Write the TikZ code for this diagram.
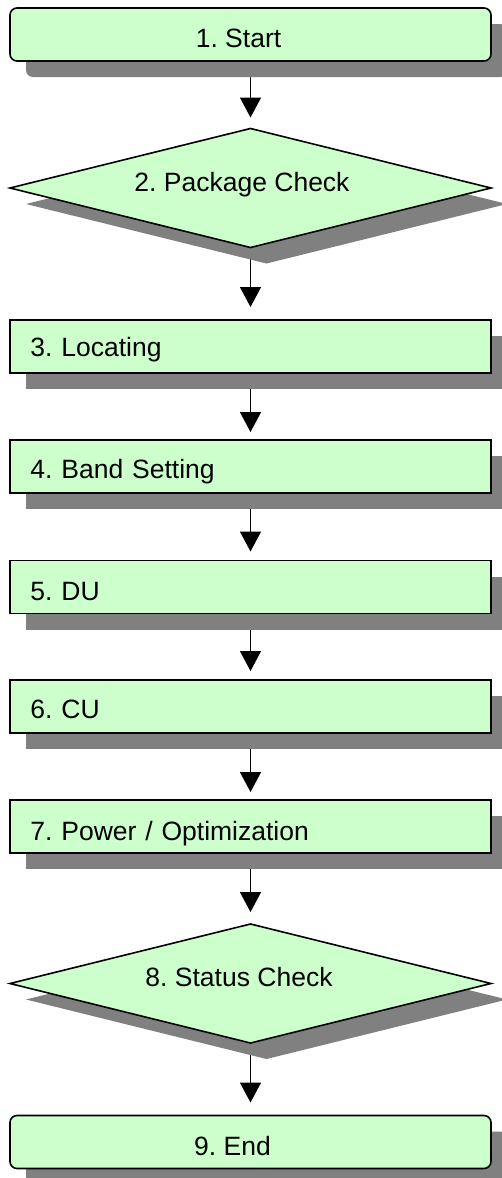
\documentclass[tikz,border=0pt]{standalone}
\usepackage{fontspec}
\setmainfont{Liberation Sans}
\usetikzlibrary{shapes.geometric,shadows,arrows.meta,backgrounds}
\definecolor{boxgreen}{HTML}{CCFFCC}
\definecolor{shadowgray}{HTML}{808080}
\newcommand{\lbl}[3]{\raisebox{#1pt}{#3}\hspace*{#2pt}}
\frenchspacing
\begin{document}
\begin{tikzpicture}[x=1pt,y=-1pt,
  base/.style={draw=black, line width=1.6pt, fill=boxgreen, outer sep=0pt, inner sep=0pt,
    font=\fontsize{26.5}{30}\selectfont\frenchspacing, text height=19pt, text depth=0pt,
    drop shadow={shadow xshift=16pt, shadow yshift=-16pt, fill=shadowgray, opacity=1}},
  termbox/.style={base, rectangle, rounded corners=7pt, minimum width=481pt, minimum height=53pt},
  stepbox/.style={base, rectangle, minimum width=481pt, minimum height=53pt, text width=440pt, align=left, inner xsep=20.5pt},
  decbox/.style={base, diamond, aspect=4, minimum width=481pt, minimum height=119pt},
  arr/.style={line width=1.4pt, -{Triangle[width=21pt,length=20pt]}}]
\useasboundingbox (0,0) rectangle (501,1178);
\node[termbox] (start) at (250.5,34.5) {\lbl{-3}{24}{1. Start}};
\node[decbox]  (pkg)   at (250.5,188)  {\lbl{6.5}{17}{2. Package Check}};
\node[stepbox] (loc)   at (250.5,346.5) {\lbl{0}{0}{3. Locating}};
\node[stepbox] (band)  at (250.5,466.5) {\lbl{-2.5}{0}{4. Band Setting}};
\node[stepbox] (du)    at (250.5,587)   {\lbl{-3.5}{0}{5. DU}};
\node[stepbox] (cu)    at (250.5,706.5) {\lbl{-2.5}{0}{6. CU}};
\node[stepbox] (pow)   at (250.5,826.5) {\lbl{-4}{0}{7. Power / Optimization}};
\node[decbox]  (stat)  at (250.5,983.5) {\lbl{7}{23}{8. Status Check}};
\node[termbox] (fin)   at (250.5,1142)  {\lbl{-3.5}{36}{9. End}};
\begin{scope}[on background layer]
\draw[arr, shorten >=11pt] (start) -- (pkg);
\draw[arr, shorten >=13pt] (pkg) -- (loc);
\draw[arr, shorten >=8pt] (loc) -- (band);
\draw[arr, shorten >=9pt] (band) -- (du);
\draw[arr, shorten >=9pt] (du) -- (cu);
\draw[arr, shorten >=8pt] (cu) -- (pow);
\draw[arr, shorten >=12pt] (pow) -- (stat);
\draw[arr, shorten >=13pt] (stat) -- (fin);
\end{scope}
\end{tikzpicture}
\end{document}
